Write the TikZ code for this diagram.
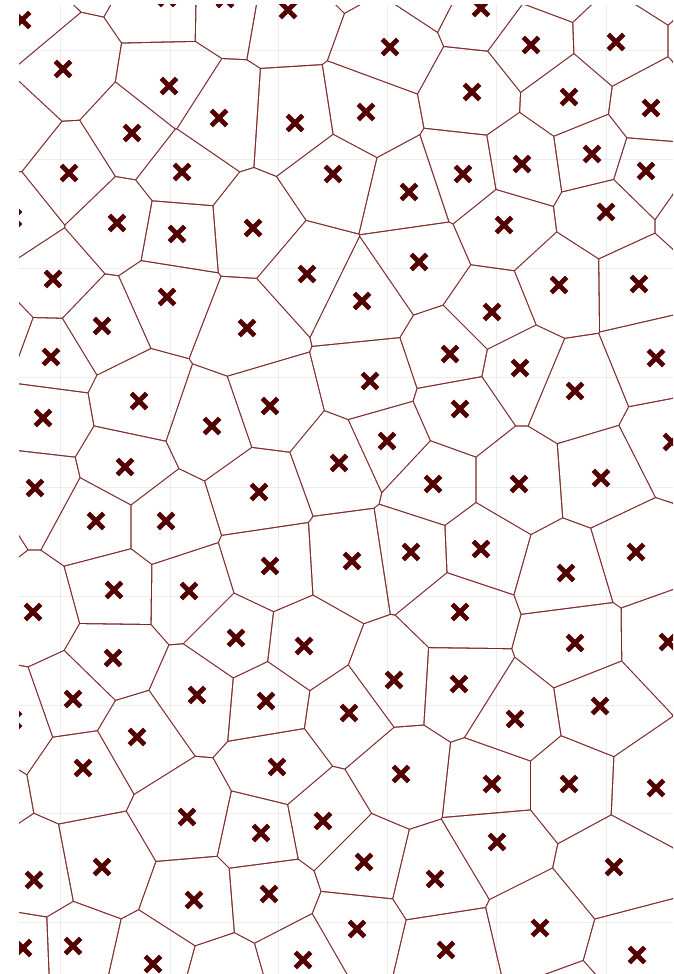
\documentclass[tikz,border=0pt]{standalone}
\usetikzlibrary{shapes.misc}

\definecolor{edgered}{RGB}{125,40,40}
\definecolor{sitered}{RGB}{82,0,0}

% generating sites (drawn with a cross)
\def\sites{22/20, 63/69, 169/86, 132/133, 219/118, 295/123, 333/174, 69/173,
  182/172, 117/223, 177/234, 253/228, 288/10, 225/-1, 167/-2,
  481/8, 390/47, 531/45, 616/42, 472/92, 366/112, 569/97, 651/108, 592/154,
  522/164, 463/174, 409/192, 646/171, 606/212, 504/225,
  53/279, 167/297, 102/326, 247/328, 307/274, 51/357, 139/401, 270/406,
  43/418, 212/426, 125/467, 35/488, 259/492,
  419/262, 362/301, 492/312, 559/285, 639/284, 450/354, 520/368, 656/358,
  370/381, 575/391, 460/409, 387/441, 339/463, 433/484, 519/484, 601/478, 672/442,
  96/521, 166/521, 270/566, 114/590, 189/591, 33/612, 236/638, 304/646,
  113/658, 197/695, 73/699, 266/701, 13/720, 13/218,
  352/561, 411/552, 481/549, 566/573, 636/552, 460/612, 575/643, 668/642,
  394/680, 459/684, 600/706, 349/713, 515/719,
  137/737, 83/768, 277/767, 187/817, 261/833, 323/821, 102/867, 34/880,
  194/900, 269/894, 23/948, 73/946, 153/964, 303/960,
  401/774, 492/784, 569/784, 656/788, 497/842, 614/867, 364/862, 435/879,
  357/929, 540/928, 446/950, 637/955}
% sites outside the frame (cells only)
\def\ghosts{88/-47, 340/-43, 432/-17, 556/-22, 661/-29, 720/42, 704/212,
  10/126, -6/336, -31/530, -28/788, 222/983, 571/1013}
\edef\allsites{\sites,\ghosts}

\begin{document}
\begin{tikzpicture}[x=1pt, y=-1pt,
  sitemark/.style={cross out, draw=sitered, line width=4.8pt, minimum size=10.5pt, inner sep=0pt},
  gridline/.style={black, opacity=0.07, line width=0.9pt},
  cellfill/.style={fill=white}]
\useasboundingbox (0,0) rectangle (673,974);
\begin{scope}
\clip (19,5) rectangle (673,974);
\fill[edgered] (19,5) rectangle (673,974);
% one white cell per site, shrunk by half a line width
\foreach \ax/\ay [count=\i] in \allsites {
  \begin{scope}
  \foreach \bx/\by [count=\j] in \allsites {
    \ifnum\i=\j\relax\else
      \pgfmathsetmacro\dd{veclen(\bx-\ax,\by-\ay)}
      \ifdim\dd pt<240pt
        \pgfmathsetmacro\ux{(\bx-\ax)/\dd}
        \pgfmathsetmacro\uy{(\by-\ay)/\dd}
        \pgfmathsetmacro\qx{(\ax+\bx)/2-0.65*\ux}
        \pgfmathsetmacro\qy{(\ay+\by)/2-0.65*\uy}
        \clip (\qx-3000*\uy, \qy+3000*\ux) -- (\qx+3000*\uy, \qy-3000*\ux)
          -- (\qx-3000*\ux, \qy-3000*\uy) -- cycle;
      \fi
    \fi
  }
  \fill[cellfill] (19,5) rectangle (673,974);
  \end{scope}
}
% faint grid
\foreach \gx in {60,170,278,387,496,606}
  \draw[gridline] (\gx,5) -- (\gx,974);
\foreach \gy in {50,159,268,377,487,596,705,813,922}
  \draw[gridline] (19,\gy) -- (673,\gy);
% sites
\foreach \ax/\ay [count=\i] in \sites
  \node[sitemark] (s\i) at (\ax,\ay) {};
\end{scope}
\end{tikzpicture}
\end{document}
